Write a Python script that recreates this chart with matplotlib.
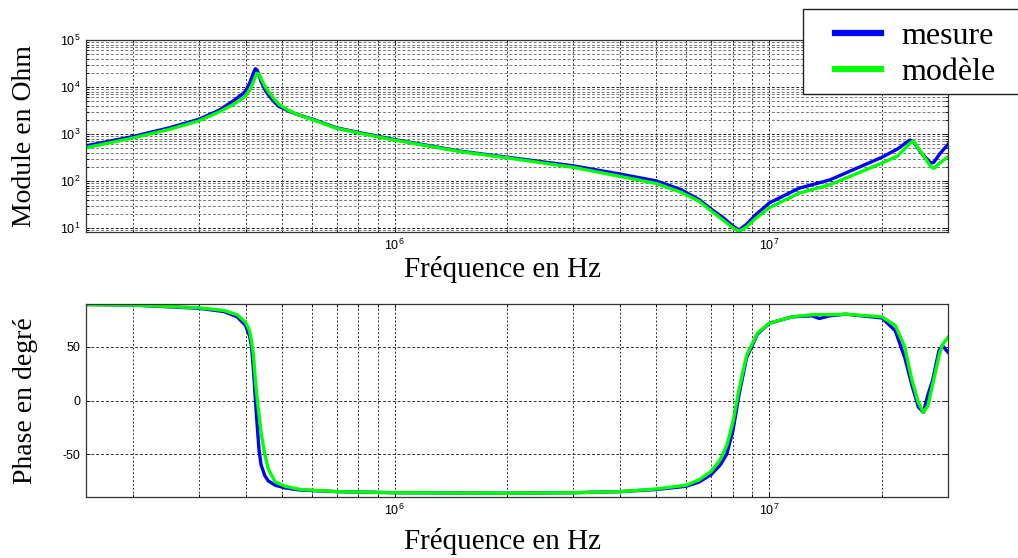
import matplotlib
matplotlib.use("Agg")
import matplotlib.pyplot as plt
from matplotlib.patches import Rectangle
from matplotlib.ticker import LogLocator, FixedLocator, NullFormatter, LogFormatterSciNotation

plt.rcParams["axes.unicode_minus"] = False

# ---------------- data ----------------
f_mag = [1.5e5, 2e5, 2.5e5, 3e5, 3.4e5, 3.7e5, 3.9e5, 4e5, 4.1e5, 4.15e5, 4.2e5, 4.25e5, 4.3e5,
         4.35e5, 4.4e5, 4.5e5, 4.6e5, 4.75e5, 4.9e5, 5.2e5, 5.5e5, 6e5, 7e5, 8e5, 1e6, 1.5e6,
         2e6, 3e6, 4e6, 5e6, 5.8e6, 6.5e6, 7e6, 7.5e6, 8e6, 8.3e6, 8.7e6, 9.2e6, 1e7, 1.2e7,
         1.45e7, 2e7, 2.2e7, 2.37e7, 2.42e7, 2.55e7, 2.7e7, 2.75e7, 2.85e7, 3e7]
mag_mesure = [560, 880, 1350, 2050, 3200, 5000, 6800, 8200, 12000, 15500, 20000, 24500, 22500,
              17500, 13000, 9000, 6800, 5000, 3900, 3100, 2600, 2100, 1350, 1080, 760, 430,
              320, 210, 140, 100, 66, 40, 25, 17, 11, 9, 12, 19, 34, 70,
              105, 320, 480, 740, 700, 390, 240, 250, 375, 600]
mag_modele = [510, 820, 1250, 1900, 2950, 4200, 5500, 6500, 8500, 10500, 13000, 16500, 19600,
              18500, 15000, 10500, 8000, 5800, 4300, 3200, 2600, 2050, 1320, 1050, 740, 420,
              310, 195, 125, 88, 58, 37, 23, 15, 10, 8.5, 10.5, 16, 27, 55,
              83, 240, 340, 620, 720, 400, 200, 185, 240, 325]

f_ph = [1.5e5, 2e5, 3e5, 3.5e5, 3.8e5, 4e5, 4.1e5, 4.15e5, 4.2e5, 4.25e5, 4.3e5, 4.35e5,
        4.4e5, 4.5e5, 4.6e5, 4.8e5, 5.1e5, 5.6e5, 7e5, 1e6, 2e6, 3e6, 4e6, 5e6, 6e6,
        6.5e6, 7e6, 7.4e6, 7.7e6, 8e6, 8.3e6, 8.7e6, 9.3e6, 1e7, 1.15e7, 1.3e7, 1.36e7,
        1.45e7, 1.6e7, 2e7, 2.17e7, 2.3e7, 2.4e7, 2.5e7, 2.58e7, 2.65e7, 2.73e7, 2.84e7,
        2.9e7, 3e7]
ph_mesure = [89.5, 89, 86, 83, 78, 70, 60, 50, 28, 0, -25, -48,
             -60, -70, -75, -79, -81.5, -83.5, -85, -86, -86.5, -86, -85, -83, -80,
             -76, -69, -60, -50, -28, 5, 40, 62, 72, 78, 79, 76.5,
             79, 80.5, 77, 65, 40, 15, -6, -11, 5, 19, 47,
             51, 45]
ph_modele = [89.5, 89, 86.5, 84, 80, 73, 65, 55, 42, 18, 0, -15,
             -30, -50, -64, -76, -80, -83, -85, -86, -86.5, -86, -85, -82.5, -79,
             -74, -66, -55, -42, -20, 10, 42, 63, 72, 78, 80, 80,
             80, 80.5, 78, 70, 50, 20, -2, -11, -5, 15, 42,
             52, 59]

labels = ["mesure", "modèle"]
colors = ["#0000ff", "#00ff00"]

# ---------------- figure ----------------
W, H = 1018, 558
fig = plt.figure(figsize=(W / 100, H / 100), dpi=100)

def px_axes(l, t, r, b):
    return fig.add_axes([l / W, 1 - b / H, (r - l) / W, (b - t) / H])

ax1 = px_axes(86, 40, 948, 232)
ax2 = px_axes(86, 304, 948, 497)

serif = "Liberation Serif"
AXW, AXH1, AXH2 = 862.0, 192.0, 193.0

for ax in (ax1, ax2):
    ax.set_xscale("log")
    ax.set_xlim(1.5e5, 3e7)
    ax.xaxis.set_major_locator(FixedLocator([1e6, 1e7]))
    ax.xaxis.set_major_formatter(LogFormatterSciNotation())
    ax.xaxis.set_minor_locator(LogLocator(base=10, subs=range(2, 10), numticks=20))
    ax.xaxis.set_minor_formatter(NullFormatter())
    ax.tick_params(which="both", direction="in", top=True, right=True,
                   labelsize=9, length=3, width=0.6, pad=4)
    ax.tick_params(which="minor", length=2)
    for s in ax.spines.values():
        s.set_linewidth(0.9)
        s.set_color("#333333")
    ax.grid(True, which="major", axis="x", linestyle=(0, (2, 2)), color="#222222", linewidth=0.7)
    ax.grid(True, which="minor", axis="x", linestyle=(0, (2, 2)), color="#333333", linewidth=0.7)
    ax.set_axisbelow(True)

# top: module
ax1.set_yscale("log")
ax1.set_ylim(8.2, 1e5)
ax1.yaxis.set_major_locator(LogLocator(base=10, numticks=10))
ax1.yaxis.set_minor_locator(LogLocator(base=10, subs=range(2, 10), numticks=20))
ax1.yaxis.set_minor_formatter(NullFormatter())
ax1.grid(True, which="major", axis="y", linestyle=(0, (3, 2)), color="#222222", linewidth=0.7)
ax1.grid(True, which="minor", axis="y", linestyle=(0, (3, 2)), color="#777777", linewidth=0.7)
l1, = ax1.plot(f_mag, mag_mesure, color=colors[0], lw=2.4, solid_joinstyle="round")
l2, = ax1.plot(f_mag, mag_modele, color=colors[1], lw=2.4, solid_joinstyle="round")
ax1.set_ylabel("Module en Ohm", family=serif, fontsize=20)
ax1.yaxis.set_label_coords((37 - 86) / AXW, 0.5)
ax1.set_xlabel("Fréquence en Hz", family=serif, fontsize=21)
ax1.xaxis.set_label_coords((503 - 86) / AXW, -(256 - 232) / AXH1)

# bottom: phase
ax2.set_ylim(-90, 90)
ax2.set_yticks([-50, 0, 50])
ax2.grid(True, which="major", axis="y", linestyle=(0, (3, 2)), color="#333333", linewidth=0.7)
ax2.plot(f_ph, ph_mesure, color=colors[0], lw=2.4, solid_joinstyle="round")
ax2.plot(f_ph, ph_modele, color=colors[1], lw=2.4, solid_joinstyle="round")
ax2.set_ylabel("Phase en degré", family=serif, fontsize=20)
ax2.yaxis.set_label_coords((38 - 86) / AXW, 0.5)
ax2.set_xlabel("Fréquence en Hz", family=serif, fontsize=21)
ax2.xaxis.set_label_coords((503 - 86) / AXW, -(528 - 497) / AXH2)

for ax in (ax1, ax2):
    for lab in ax.get_xticklabels() + ax.get_yticklabels():
        lab.set_fontfamily("Liberation Sans")

# legend box (extends past the right edge, as in the original)
fig.patches.append(Rectangle((803 / W, 1 - 94 / H), 240 / W, 85 / H,
                             transform=fig.transFigure, facecolor="white",
                             edgecolor="#222222", linewidth=1.0, zorder=5))
leg = fig.legend([l1, l2], labels, loc="center left",
                 bbox_to_anchor=(835 / W, 1 - 54.5 / H),
                 prop=dict(family=serif, size=23),
                 frameon=False, handlelength=1.45, handletextpad=0.62,
                 borderpad=0, labelspacing=0.2, borderaxespad=0)
leg.set_zorder(6)
for h in leg.legend_handles:
    h.set_linewidth(4.5)

fig.savefig("out.png", dpi=100)
